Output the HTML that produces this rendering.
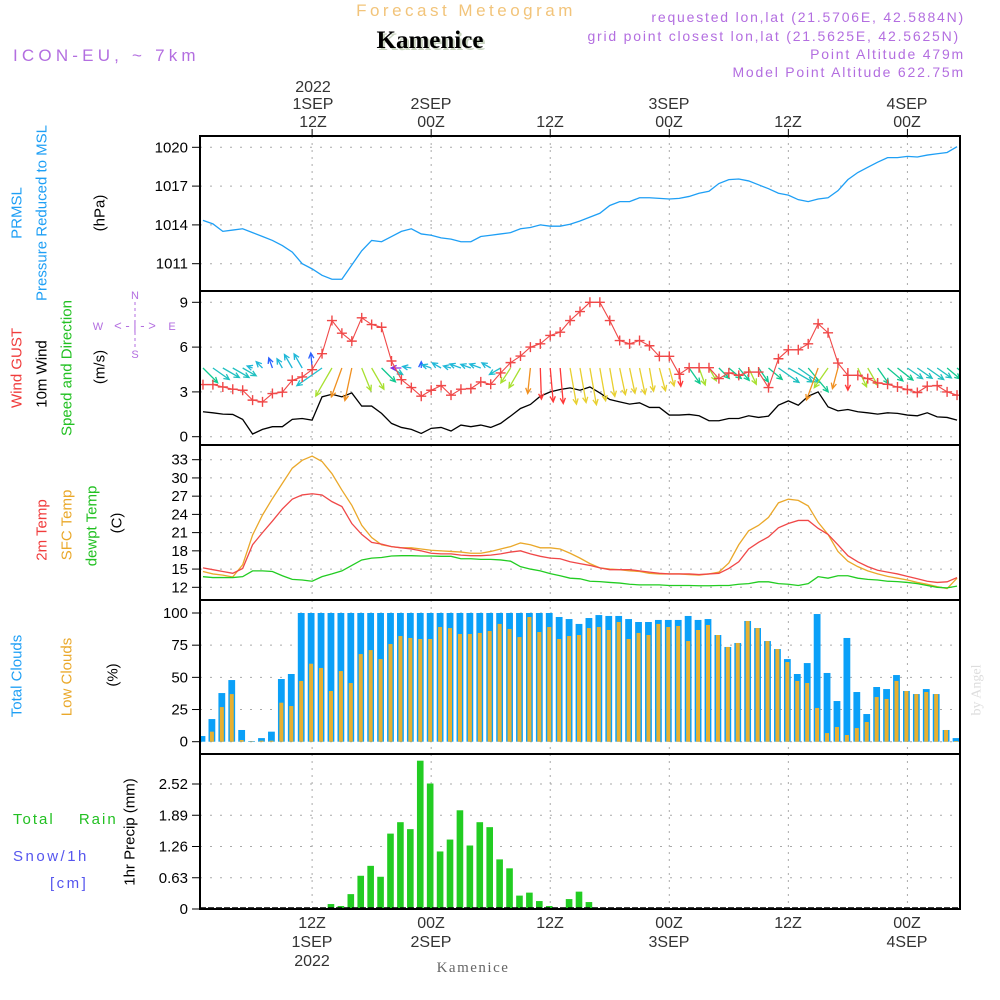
<!DOCTYPE html>
<html><head><meta charset="utf-8"><style>
html,body{margin:0;padding:0;background:#fff;}
svg{display:block;font-family:"Liberation Sans",sans-serif;}
</style></head><body>
<svg id="chart" width="1000" height="1000" viewBox="0 0 1000 1000" xmlns="http://www.w3.org/2000/svg">
<defs><clipPath id="plotclip"><rect x="200" y="136" width="760" height="773"/></clipPath></defs>
<g id="static">
<text x="466" y="16" font-size="17" fill="#f2c47a" text-anchor="middle" letter-spacing="3.5">Forecast Meteogram</text>
<text x="430" y="48" font-size="25" font-weight="bold" font-family="Liberation Serif, serif" fill="#c9d4c0" text-anchor="middle" transform="translate(2,2)">Kamenice</text>
<text x="430" y="48" font-size="25" font-weight="bold" font-family="Liberation Serif, serif" fill="#000" text-anchor="middle">Kamenice</text>
<text x="13" y="61" font-size="17" fill="#b36ee0" letter-spacing="4.2">ICON-EU, ~ 7km</text>
<g font-size="14" fill="#b36ee0" text-anchor="end" letter-spacing="1.8">
<text x="965" y="22">requested lon,lat (21.5706E, 42.5884N)</text>
<text x="960" y="41">grid point closest lon,lat (21.5625E, 42.5625N)</text>
<text x="965" y="59">Point Altitude 479m</text>
<text x="965" y="77">Model Point Altitude 622.75m</text>
</g>
<g font-size="16" fill="#333" text-anchor="middle">
<text x="313" y="92">2022</text>
<text x="313" y="109">1SEP</text><text x="313" y="127">12Z</text>
<text x="431" y="109">2SEP</text><text x="431" y="127">00Z</text>
<text x="550" y="127">12Z</text>
<text x="669" y="109">3SEP</text><text x="669" y="127">00Z</text>
<text x="788" y="127">12Z</text>
<text x="907" y="109">4SEP</text><text x="907" y="127">00Z</text>
</g>
<g font-size="16" fill="#333" text-anchor="middle">
<text x="312" y="928">12Z</text><text x="312" y="947">1SEP</text><text x="312" y="966">2022</text>
<text x="431" y="928">00Z</text><text x="431" y="947">2SEP</text>
<text x="550" y="928">12Z</text>
<text x="669" y="928">00Z</text><text x="669" y="947">3SEP</text>
<text x="788" y="928">12Z</text>
<text x="907" y="928">00Z</text><text x="907" y="947">4SEP</text>
</g>
<text x="473" y="972" font-size="15" font-family="Liberation Serif, serif" fill="#666" text-anchor="middle" letter-spacing="1.5">Kamenice</text>
<g font-size="15" text-anchor="middle" dominant-baseline="central">
<text transform="translate(17,213) rotate(-90)" fill="#1e9ff5">PRMSL</text>
<text transform="translate(42,213) rotate(-90)" fill="#1e9ff5">Pressure Reduced to MSL</text>
<text transform="translate(100,213) rotate(-90)" fill="#000">(hPa)</text>
<text transform="translate(17,368) rotate(-90)" fill="#f03c3c">Wind GUST</text>
<text transform="translate(42,374) rotate(-90)" fill="#000">10m Wind</text>
<text transform="translate(67,368) rotate(-90)" fill="#22c022">Speed and Direction</text>
<text transform="translate(100,367) rotate(-90)" fill="#000">(m/s)</text>
<text transform="translate(42,530) rotate(-90)" fill="#f03c3c">2m Temp</text>
<text transform="translate(67,525) rotate(-90)" fill="#eaa82a">SFC Temp</text>
<text transform="translate(92,526) rotate(-90)" fill="#22c022">dewpt Temp</text>
<text transform="translate(117,523) rotate(-90)" fill="#000">(C)</text>
<text transform="translate(17,676) rotate(-90)" fill="#1e9ff5">Total Clouds</text>
<text transform="translate(67,677) rotate(-90)" fill="#eaa82a">Low Clouds</text>
<text transform="translate(113,675) rotate(-90)" fill="#000">(%)</text>
<text transform="translate(130,832) rotate(-90)" fill="#000">1hr Precip (mm)</text>
<text transform="translate(977,690) rotate(-90)" fill="#ddd" font-family="Liberation Serif, serif" font-size="14">by Angel</text>
</g>
<text x="13" y="824" font-size="15" fill="#22c022" letter-spacing="2" word-spacing="18">Total Rain</text>
<text x="13" y="861" font-size="15" fill="#5555ee" letter-spacing="2.5">Snow/1h</text>
<text x="50" y="888" font-size="15" fill="#5555ee" letter-spacing="2.5">[cm]</text>
<g fill="#b36ee0" font-size="11" text-anchor="middle">
<text x="135" y="299">N</text><text x="135" y="358">S</text><text x="98" y="330">W</text><text x="172" y="330">E</text>
<text x="135" y="330" font-size="13">&lt; - | - &gt;</text>
<line x1="135" y1="302" x2="135" y2="348" stroke="#b36ee0" stroke-dasharray="3,3"/>
</g>
</g>
<g id="dyn"></g>
</svg>
<script>
// ===== Data (hourly, h = 1..77 hours after 00Z 1 SEP 2022) =====
const hours = Array.from({length:77},(_,i)=>i+1);
const pressure = [1014.35,1014.08,1013.5,1013.6,1013.7,1013.4,1013.1,1012.8,1012.4,1011.9,1011.0,1010.6,1010.1,1009.8,1009.8,1010.9,1012.0,1012.8,1012.7,1013.1,1013.5,1013.7,1013.3,1013.2,1013.0,1012.9,1012.7,1012.7,1013.1,1013.2,1013.3,1013.4,1013.7,1013.8,1014.0,1013.9,1013.9,1014.05,1014.3,1014.6,1014.9,1015.5,1015.8,1015.8,1016.1,1016.1,1016.05,1016.0,1016.05,1016.2,1016.45,1016.6,1017.2,1017.5,1017.55,1017.4,1017.1,1016.8,1016.45,1016.3,1015.95,1015.8,1016.0,1016.1,1016.65,1017.5,1018.05,1018.45,1018.85,1019.2,1019.2,1019.3,1019.25,1019.4,1019.5,1019.6,1020.05];
const gust = [3.49,3.49,3.33,3.18,3.11,2.45,2.33,2.89,2.98,3.78,4.0,4.49,5.56,7.78,6.93,6.4,7.96,7.51,7.33,5.07,3.82,3.29,2.71,3.11,3.42,2.78,3.18,3.22,3.67,3.51,4.27,4.96,5.4,6.0,6.22,6.78,7.0,7.78,8.38,9.0,9.0,7.78,6.44,6.22,6.44,6.09,5.38,5.38,4.18,4.62,4.62,4.62,3.89,4.27,4.11,4.33,4.33,3.29,5.22,5.82,5.82,6.22,7.56,6.96,4.93,4.11,4.11,3.89,3.6,3.51,3.33,3.16,2.96,3.38,3.42,3.0,2.78];
const wind10m = [1.67,1.6,1.51,1.49,1.16,0.18,0.49,0.67,0.67,1.16,1.22,1.11,2.67,2.84,2.67,2.93,2.05,2.05,1.56,0.89,0.62,0.49,0.22,0.56,0.62,0.38,0.78,0.67,0.78,0.62,0.89,1.38,1.89,2.16,2.71,3.0,3.16,3.27,3.11,3.33,2.93,2.49,2.33,2.18,2.27,1.96,1.96,1.45,1.45,1.49,1.4,1.07,1.07,1.22,1.22,1.4,1.29,1.38,2.11,2.4,2.11,2.71,3.0,2.0,1.73,1.82,1.67,1.6,1.51,1.6,1.56,1.45,1.4,1.6,1.33,1.29,1.11];
// direction the arrow points to (deg clockwise from north)
const windDir = [135,125,120,120,120,290,315,340,330,330,330,355,235,210,200,192,158,150,135,120,270,280,0,290,300,285,290,290,290,300,240,213,210,186,178,175,175,170,170,170,170,170,168,168,168,170,165,165,175,145,160,150,135,130,140,155,145,130,125,120,125,140,200,215,195,180,155,150,145,130,128,125,125,125,125,130,130];
const temp2m = [15.2,14.9,14.6,14.3,15.1,19.0,21.0,22.9,24.9,26.5,27.2,27.4,27.2,26.1,25.3,22.5,20.7,19.4,19.1,18.7,18.5,18.3,18.0,17.6,17.5,17.5,17.3,17.2,17.2,17.3,17.5,17.8,18.0,17.5,17.1,16.8,16.7,16.2,15.9,15.6,15.2,14.9,14.9,14.9,14.7,14.5,14.3,14.2,14.2,14.2,14.1,14.2,14.3,15.1,16.2,18.3,19.4,20.3,21.8,22.5,23.0,23.0,21.7,20.7,19.0,17.2,16.2,15.4,14.8,14.5,14.2,13.8,13.4,13.0,12.8,12.9,13.6];
const tempSfc = [14.6,14.2,14.0,13.7,15.7,20.6,23.9,26.6,29.1,31.6,32.9,33.6,32.7,30.7,28.0,25.5,22.2,20.2,19.0,18.7,18.5,18.5,18.3,18.1,18.0,17.9,17.8,17.6,17.6,17.9,18.3,18.7,19.3,19.0,18.5,18.5,18.3,17.6,16.8,15.9,15.2,15.0,14.9,14.7,14.6,14.3,14.2,14.2,14.2,14.1,14.0,14.2,14.5,16.0,19.0,21.3,22.2,23.5,25.9,26.5,26.3,25.4,22.7,20.7,17.9,16.3,15.4,14.7,14.2,13.8,13.5,13.2,12.8,12.5,12.1,11.8,13.5];
const dewpt = [13.75,13.6,13.6,13.6,13.75,14.7,14.7,14.6,13.9,13.3,13.2,13.0,13.75,14.2,14.7,15.6,16.5,16.8,16.9,17.15,17.2,17.2,17.15,17.15,17.1,17.1,16.7,16.7,16.6,16.6,16.5,16.3,15.4,15.0,14.7,14.25,13.9,13.5,13.4,13.0,12.93,12.8,12.7,12.5,12.4,12.4,12.4,12.3,12.3,12.3,12.25,12.25,12.3,12.3,12.5,12.6,12.9,12.9,12.6,12.5,12.3,12.6,13.75,13.5,13.9,13.9,13.5,13.3,13.2,13.0,12.93,12.8,12.6,12.3,12.0,11.9,12.2];
const totalCloud = [4.4,17.6,37.8,47.9,9.1,0.5,2.8,7.8,48.7,52.6,100,100,100,100,100,100,100,100,100,100,100,100,100,100,100,100,100,100,100,100,100,100,100,100,100,100,96.9,95.3,91.5,96.1,98.4,97.7,97.7,95.3,93,93,94.6,94.6,94.6,97.7,94.6,95.3,82.9,73.6,76.7,93.8,88.3,78.2,72,64.2,52.6,61.1,99.2,53.4,31.6,80.6,38.6,21.5,42.5,40.9,51.8,39.4,37,40.9,37,9.1,2.8];
const lowCloud = [0,7.8,26.9,37.0,1.3,0.3,0.8,0.8,30.3,27.7,47.2,60.6,57.3,39.4,54.9,45.6,68.1,71.2,64.2,75.9,82.1,80.6,79.8,79.8,89.1,88.3,83.7,83.7,84.5,86,91.5,87.6,81.3,96.9,85.2,89.1,79.8,82.1,82.9,88.3,89.1,86.8,93,79.8,84.5,82.9,91.5,89.1,89.9,78.2,86.8,90.7,82.9,73.6,76.7,93.8,88.3,78.2,72,61.9,47.2,45.6,26.2,6.7,11.4,5.2,10.6,15.3,34.7,33.2,47.2,39.4,37,38.6,37,9.1,0.5];
const precip = [0,0,0,0,0,0,0,0,0,0,0,0,0,0.10,0.06,0.30,0.67,0.87,0.65,1.52,1.75,1.61,2.99,2.53,1.16,1.40,1.99,1.28,1.75,1.65,1.0,0.82,0.27,0.33,0.16,0.06,0,0.20,0.35,0.14,0,0,0,0,0,0,0,0,0,0,0,0,0,0,0,0,0,0,0,0,0,0,0,0,0,0,0,0,0,0,0,0,0,0,0,0,0];
const pressTicks = [1020,1017,1014,1011];
const windTicks = [9,6,3,0];
const tempTicks = [33,30,27,24,21,18,15,12];
const cloudTicks = [100,75,50,25,0];
const precipTicks = [0,0.63,1.26,1.89,2.52];
const timeGrid = [12,24,36,48,60,72];

// ===== Axes =====
const X0=200,X1=960,H0=0.7,H1=77.3;
const xOf=h=>X0+(h-H0)*(X1-X0)/(H1-H0);
const lin=(v0,y0,v1,y1)=>v=>y0+(v-v0)*(y1-y0)/(v1-v0);
const yP=lin(1020,147.3,1011,263.7);
const yW=lin(0,436.7,9,302.3);
const yT=lin(12,587.3,33,459.7);
const yC=lin(0,741.7,100,613);
const yR=lin(0,909,2.52,784);
const panels=[[136,291,'pressure-panel'],[291,445,'wind-panel'],[445,600,'temperature-panel'],[600,754,'cloud-panel'],[754,909,'precip-panel']];

const NS='http://www.w3.org/2000/svg';
const dyn=document.getElementById('dyn');
function mk(tag,attrs,parent){const e=document.createElementNS(NS,tag);for(const k in attrs)e.setAttribute(k,attrs[k]);(parent||dyn).appendChild(e);return e;}
function grp(name){const g=mk('g',{});


return g;}

// gridlines
const gridG=grp('gridlines');
timeGrid.forEach(h=>{panels.forEach(p=>{const l=mk('line',{x1:xOf(h),x2:xOf(h),y1:p[0],y2:p[1],stroke:'#aaa','stroke-dasharray':'2,5'},gridG);

});
const t=mk('line',{x1:xOf(h),x2:xOf(h),y1:129,y2:136,stroke:'#000'},gridG);

});
function hgrid(vals,yf,name){vals.forEach(v=>{const l=mk('line',{x1:X0,x2:X1,y1:yf(v),y2:yf(v),stroke:'#aaa','stroke-dasharray':'2,8'},gridG);

});}
hgrid(pressTicks,yP,'pressure-gridline');hgrid(windTicks,yW,'wind-gridline');hgrid(tempTicks,yT,'temp-gridline');hgrid(cloudTicks,yC,'cloud-gridline');hgrid(precipTicks.slice(1),yR,'precip-gridline');

// tick labels
function ticks(vals,yf,name,fmt){const g=grp(name);vals.forEach(v=>{const t=mk('text',{x:188,y:yf(v)+5,'font-size':15,'text-anchor':'end',fill:'#000'},g);t.textContent=fmt?fmt(v):v;


const l=mk('line',{x1:192,x2:X0,y1:yf(v),y2:yf(v),stroke:'#000'},g);

});}
ticks(pressTicks,yP,'pressure-y-axis');ticks(windTicks,yW,'wind-y-axis');ticks(tempTicks,yT,'temp-y-axis');ticks(cloudTicks,yC,'cloud-y-axis');
ticks(precipTicks,yR,'precip-y-axis',v=>v===0?'0':v.toFixed(2));

const plot=grp('plot-area');
plot.setAttribute('clip-path','url(#plotclip)');

// clouds
const cg=mk('g',{},plot);


hours.forEach((h,i)=>{const x=xOf(h)-1;
const b=mk('rect',{x:x-3.4,y:yC(totalCloud[i]),width:6.8,height:yC(0)-yC(totalCloud[i]),fill:'#0aa0f8'},cg);


const b2=mk('rect',{x:x-2,y:yC(lowCloud[i]),width:4,height:yC(0)-yC(lowCloud[i]),fill:'#e8b030'},cg);

});

// precip
const rg=mk('g',{},plot);


hours.forEach((h,i)=>{if(precip[i]<=0)return;const x=xOf(h)-1;
const b=mk('rect',{x:x-3.3,y:yR(precip[i]),width:6.6,height:yR(0)-yR(precip[i]),fill:'#22cc22'},rg);

});
const zl=mk('line',{x1:X0,x2:X1,y1:yR(0)-1,y2:yR(0)-1,stroke:'#000','stroke-width':1.5,'stroke-dasharray':'6,2'},rg);



// lines
function line(vals,yf,color,name,w){const p=mk('polyline',{points:hours.map((h,i)=>xOf(h)+','+yf(vals[i])).join(' '),fill:'none',stroke:color,'stroke-width':w||1.3},plot);

return p;}
line(pressure,yP,'#1e9ff5','pressure-line');
line(wind10m,yW,'#000','wind-10m-line');

// wind arrows
function dirColor(d){if(d>=340||d<20)return'#2a60ff';if(d>=280)return'#20b8d8';if(d>=245)return'#8a2be2';if(d>=220)return'#20c0d0';if(d>=205)return'#a8e030';if(d>=185)return'#f09020';if(d>=172)return'#ff3838';if(d>=163)return'#e8d030';if(d>=150)return'#a8e030';if(d>=128)return'#10c890';return'#20c0c0';}
const ag=mk('g',{},plot);


const y0=368;
hours.forEach((h,i)=>{const x=xOf(h),len=4+10*wind10m[i],a=windDir[i]*Math.PI/180;
const dx=Math.sin(a)*len,dy=-Math.cos(a)*len,ex=x+dx,ey=y0+dy,c=dirColor(windDir[i]);
const hl=6,ha=0.45,back=Math.atan2(-dy,-dx);
const d=`M${x},${y0}L${ex},${ey}M${ex+hl*Math.cos(back+ha)},${ey+hl*Math.sin(back+ha)}L${ex},${ey}L${ex+hl*Math.cos(back-ha)},${ey+hl*Math.sin(back-ha)}`;
const p=mk('path',{d:d,stroke:c,'stroke-width':1.3,fill:'none'},ag);

});

line(gust,yW,'#f04848','wind-gust-line',1.1);
const gm=mk('g',{},plot);


hours.forEach((h,i)=>{const x=xOf(h),y=yW(gust[i]);
const m=mk('path',{d:`M${x-5},${y}H${x+5}M${x},${y-5}V${y+5}`,stroke:'#f04848','stroke-width':1.4},gm);

});
line(tempSfc,yT,'#eaa82a','sfc-temp-line');
line(temp2m,yT,'#f04848','temp-2m-line');
line(dewpt,yT,'#22cc22','dewpt-line');

// panel frames
panels.forEach(p=>{const r=mk('rect',{x:X0,y:p[0],width:X1-X0,height:p[1]-p[0],fill:'none',stroke:'#000','stroke-width':2});

});
</script>
</body></html>
